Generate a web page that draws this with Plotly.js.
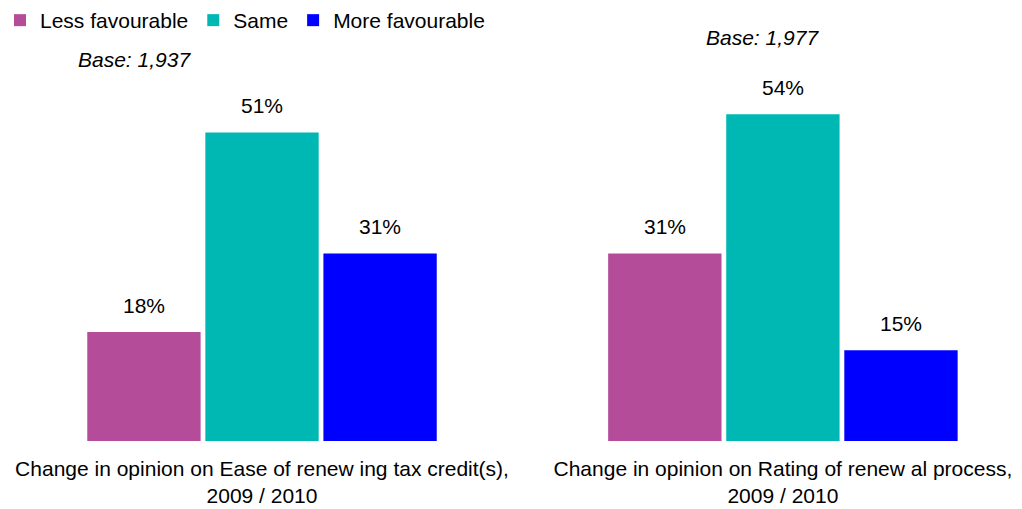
<!DOCTYPE html>
<html>
<head>
<meta charset="utf-8">
<script src="https://cdn.plot.ly/plotly-3.0.1.min.js"></script>
<style>html,body{margin:0;padding:0;background:#fff;}#chart{width:1022px;height:509px;}</style>
</head>
<body>
<div id="chart"></div>
<script>
const categories = [
  "Change in opinion on Ease of renew ing tax credit(s),<br>2009 / 2010",
  "Change in opinion on Rating of renew al process,<br>2009 / 2010"
];
const seriesNames = ["Less favourable", "Same", "More favourable"];
const lessFavourable = [18, 31];
const same = [51, 54];
const moreFavourable = [31, 15];
const baseLabels = ["Base: 1,937", "Base: 1,977"];
const colors = ["#B44C9A", "#00B8B3", "#0000FF"];

const FONT = "Liberation Sans, Arial, sans-serif";
const FS = 21;
const BARGAP = 0.32;
const values = [lessFavourable, same, moreFavourable];
const traces = values.map((v, i) => ({
  type: "bar",
  name: seriesNames[i],
  x: categories,
  y: v,
  marker: {color: colors[i]},
  hoverinfo: "skip"
}));

// value labels placed at each bar's slot centre (derived from bargap)
const nSeries = values.length;
const slot = (1 - BARGAP) / nSeries;
const valueAnnotations = [];
values.forEach((v, i) => {
  v.forEach((d, j) => {
    valueAnnotations.push({
      x: j + (i - (nSeries - 1) / 2) * slot, y: d, xref: "x", yref: "y",
      text: d + "%", showarrow: false, xanchor: "center", yanchor: "middle",
      yshift: 27, font: {family: FONT, size: FS, color: "#000"}
    });
  });
});

const layout = {
  width: 1022, height: 509,
  margin: {l: 0, r: 0, t: 0, b: 68},
  paper_bgcolor: "#fff", plot_bgcolor: "#fff",
  barmode: "group",
  bargap: BARGAP,
  bargroupgap: 0.04,
  font: {family: FONT, size: FS, color: "#000"},
  showlegend: true,
  legend: {
    orientation: "h", x: 0, y: 1, xanchor: "left", yanchor: "top",
    font: {family: FONT, size: FS, color: "#000"},
    bgcolor: "rgba(0,0,0,0)", traceorder: "normal"
  },
  xaxis: {
    type: "category",
    range: [-0.503, 1.459],
    showgrid: false, zeroline: false, showline: false,
    ticks: "", tickfont: {family: FONT, size: FS, color: "#000"},
    ticklabelstandoff: 13,
    automargin: false
  },
  yaxis: {
    range: [0, 72.9],
    showgrid: false, zeroline: false, showline: false,
    showticklabels: false, ticks: ""
  },
  annotations: valueAnnotations.concat([
    {text: baseLabels[0], xref: "paper", yref: "paper", x: 0.132, y: 0.864,
     xanchor: "center", yanchor: "middle", showarrow: false,
     font: {family: FONT, size: FS, color: "#000", style: "italic"}},
    {text: baseLabels[1], xref: "paper", yref: "paper", x: 0.746, y: 0.916,
     xanchor: "center", yanchor: "middle", showarrow: false,
     font: {family: FONT, size: FS, color: "#000", style: "italic"}}
  ])
};

Plotly.newPlot("chart", traces, layout, {displayModeBar: false, staticPlot: true});
</script>
</body>
</html>
